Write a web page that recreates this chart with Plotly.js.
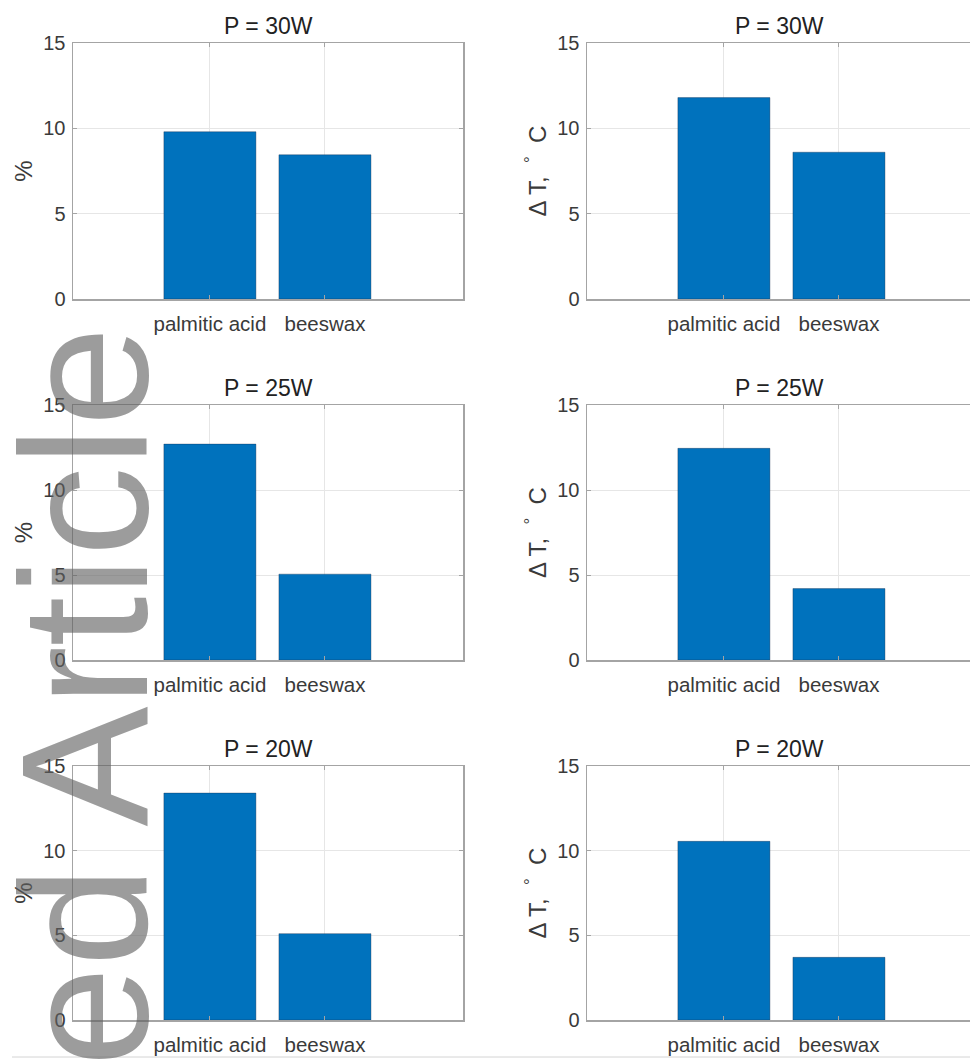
<!DOCTYPE html>
<html>
<head>
<meta charset="utf-8">
<script src="https://cdn.plot.ly/plotly-3.0.1.min.js"></script>
<style>
html, body { margin: 0; padding: 0; overflow: hidden; background: #fff; }
#chart { width: 980px; height: 1059px; }
</style>
</head>
<body>
<div id="chart"></div>
<script>
// ---- data ----
const categories = ['palmitic acid', 'beeswax'];
const powerTitles = ['P = 30W', 'P = 25W', 'P = 20W'];
const pct30 = [9.8, 8.45];
const pct25 = [12.7, 5.05];
const pct20 = [13.4, 5.1];
const dT30 = [11.8, 8.6];
const dT25 = [12.45, 4.2];
const dT20 = [10.55, 3.7];
const yTicks = [0, 5, 10, 15];
const yTitleLeft = '%';
const yTitleRight = 'Δ T,  <sup>°</sup>  C';
const watermarkText = 'Accepted Article';

const leftSeries = [pct30, pct25, pct20];
const rightSeries = [dT30, dT25, dT20];

// ---- layout geometry (pixels) ----
const W = 980, H = 1059;
const colX = [[73, 463], [587, 977]];
const rowY = [[43, 299], [405, 660], [766, 1020]];

const font = 'Liberation Sans, Arial, Helvetica, sans-serif';
const barColor = '#0072BD';
const axisLineColor = '#a4a4a4';
const gridColor = '#e6e6e6';
const textColor = '#3a3a3a';

const data = [];
const layout = {
  width: W, height: H,
  margin: {l: 0, r: 0, t: 0, b: 0, pad: 0},
  paper_bgcolor: '#ffffff',
  plot_bgcolor: '#ffffff',
  showlegend: false,
  font: {family: font, size: 20, color: textColor},
  annotations: [],
  shapes: []
};

for (let r = 0; r < 3; r++) {
  for (let c = 0; c < 2; c++) {
    const idx = r * 2 + c + 1;
    const xa = idx === 1 ? 'x' : 'x' + idx;
    const ya = idx === 1 ? 'y' : 'y' + idx;
    const vals = c === 0 ? leftSeries[r] : rightSeries[r];
    data.push({
      type: 'bar',
      x: categories,
      y: vals,
      xaxis: xa, yaxis: ya,
      width: 0.8,
      marker: {color: barColor, line: {color: 'rgba(20,40,70,0.6)', width: 0.6}},
      hoverinfo: 'x+y'
    });
    const xd = [colX[c][0] / W, colX[c][1] / W];
    const yd = [1 - rowY[r][1] / H, 1 - rowY[r][0] / H];
    layout['xaxis' + (idx === 1 ? '' : idx)] = {
      domain: xd,
      anchor: ya,
      type: 'category',
      range: [-1.19, 2.2],
      showline: true, linecolor: axisLineColor, linewidth: 1.5, mirror: 'allticks',
      showgrid: true, gridcolor: gridColor, gridwidth: 1,
      ticks: 'inside', ticklen: 4, tickcolor: axisLineColor, tickwidth: 1,
      tickfont: {family: font, size: 20.5, color: textColor},
      ticklabelstandoff: 6,
      zeroline: false, fixedrange: true
    };
    layout['yaxis' + (idx === 1 ? '' : idx)] = {
      domain: yd,
      anchor: xa,
      range: [0, 15],
      tickvals: yTicks,
      showline: true, linecolor: axisLineColor, linewidth: 1.5, mirror: 'allticks',
      showgrid: true, gridcolor: gridColor, gridwidth: 1,
      ticks: 'inside', ticklen: 4, tickcolor: axisLineColor, tickwidth: 1,
      tickfont: {family: font, size: 20, color: textColor},
      ticklabelstandoff: 2,
      zeroline: false, fixedrange: true,
      title: {text: c === 0 ? yTitleLeft : yTitleRight, font: {family: font, size: 24, color: textColor}, standoff: 4}
    };
    layout.annotations.push({
      text: powerTitles[r],
      xref: 'paper', yref: 'paper',
      x: (xd[0] + xd[1]) / 2 + (c === 1 ? -0.003 : 0),
      y: yd[1] + 2 / H,
      xanchor: 'center', yanchor: 'bottom',
      showarrow: false,
      font: {family: font, size: 23, color: '#222'}
    });
  }
}

// watermark
layout.annotations.push({
  text: watermarkText,
  xref: 'paper', yref: 'paper',
  x: 84 / W, y: 1 - 972 / H,
  xanchor: 'center', yanchor: 'middle',
  textangle: -90,
  showarrow: false,
  font: {family: font, size: 180, color: 'rgba(95,95,95,0.62)'}
});

// thin page line at bottom
layout.shapes.push({
  type: 'line', xref: 'paper', yref: 'paper',
  x0: 12 / W, x1: 1, y0: 1 - 1057 / H, y1: 1 - 1057 / H,
  line: {color: '#d4d4d4', width: 1}
});

Plotly.newPlot('chart', data, layout, {displayModeBar: false, staticPlot: true});
</script>
</body>
</html>
